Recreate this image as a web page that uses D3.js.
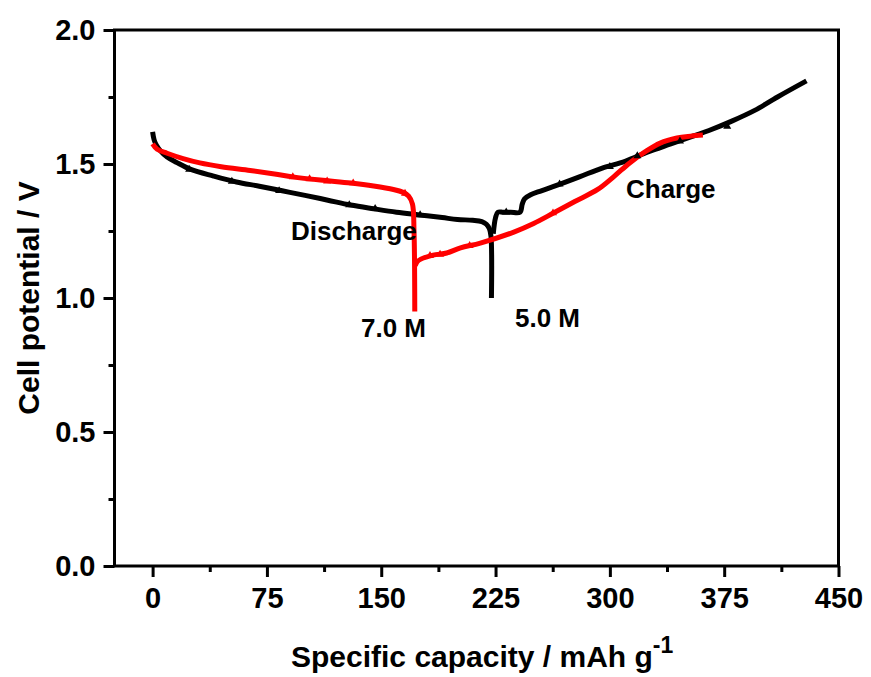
<html>
<head>
  <script src="https://d3js.org/d3.v7.min.js"></script>
  <style>
    body { margin: 0; background: #fff; }
    text { font-family: "Liberation Sans", Arial, sans-serif; }
    .tick text { font-weight: bold; font-size: 29px; fill: #000; }
    .tick line { stroke: #000; stroke-width: 3px; }
    .title { font-weight: bold; font-size: 30px; }
    .note { font-weight: bold; font-size: 26px; }
  </style>
</head>
<body>
  <svg id="chart" width="871" height="677"></svg>
  <script>
    // 5.0 M electrolyte (black) - discharge then charge
    const blackDischargeX = [0, 1, 2.5, 5, 9.5, 16, 25, 40, 55, 70, 85, 100, 115, 130, 145, 160, 175, 190, 200, 210, 216, 219, 221, 222, 222.3];
    const blackDischargeY = [1.62, 1.59, 1.57, 1.55, 1.526, 1.505, 1.48, 1.455, 1.433, 1.417, 1.40, 1.383, 1.365, 1.347, 1.333, 1.32, 1.31, 1.30, 1.293, 1.29, 1.285, 1.275, 1.258, 1.23, 1.0];
    const blackChargeX = [223.5, 225, 226.5, 230, 235, 241, 242.5, 244, 248, 255, 265, 280, 295, 310, 325, 340, 355, 365, 380, 395, 410, 429];
    const blackChargeY = [1.24, 1.30, 1.32, 1.32, 1.32, 1.32, 1.35, 1.37, 1.385, 1.40, 1.42, 1.452, 1.485, 1.51, 1.545, 1.575, 1.605, 1.625, 1.66, 1.70, 1.75, 1.81];

    // 7.0 M electrolyte (red)
    const redDischargeX = [0, 3, 9.5, 20, 31, 45, 64, 80, 92, 110, 130, 145, 158, 164, 168, 170.5, 171.5, 172];
    const redDischargeY = [1.575, 1.555, 1.54, 1.52, 1.504, 1.49, 1.476, 1.463, 1.452, 1.44, 1.429, 1.418, 1.405, 1.395, 1.38, 1.35, 1.25, 0.95];
    const redChargeX = [172.3, 173.5, 176, 184, 193, 202, 215, 237, 250, 263, 277, 292, 303, 313, 323, 333, 344, 353, 361];
    const redChargeY = [1.12, 1.135, 1.145, 1.16, 1.168, 1.187, 1.205, 1.246, 1.278, 1.317, 1.36, 1.405, 1.455, 1.504, 1.545, 1.578, 1.597, 1.604, 1.608];

    // small symbols sitting on the curves
    const blackMarkX = [24, 52, 83, 129, 146, 175.5, 232, 267, 300, 318, 346, 377];
    const blackMarkY = [1.48, 1.435, 1.40, 1.347, 1.333, 1.31, 1.32, 1.425, 1.49, 1.53, 1.585, 1.64];
    const redMarkX = [92, 103, 114.5, 131.6, 165.6, 182, 188.6, 208, 262.7];
    const redMarkY = [1.452, 1.444, 1.436, 1.429, 1.39, 1.158, 1.163, 1.195, 1.317];

    const xTicks = [0, 75, 150, 225, 300, 375, 450];
    const xMinor = [37.5, 112.5, 187.5, 262.5, 337.5, 412.5];
    const yTicks = [0.0, 0.5, 1.0, 1.5, 2.0];
    const yMinor = [0.25, 0.75, 1.25, 1.75];

    const zip = (xs, ys) => xs.map((d, i) => [d, ys[i]]);

    const svg = d3.select("#chart");
    const margin = { top: 30, right: 32.5, bottom: 111, left: 114.5 };
    const width = 871 - margin.left - margin.right;
    const height = 677 - margin.top - margin.bottom;

    const plot = svg.append("g")
      .attr("transform", "translate(" + margin.left + "," + margin.top + ")");

    const x = d3.scaleLinear().domain([-25, 450]).range([0, width]);
    const y = d3.scaleLinear().domain([0, 2]).range([height, 0]);

    // axes
    const xAxis = plot.append("g").attr("transform", "translate(0," + height + ")")
      .call(d3.axisBottom(x).tickValues(xTicks).tickSize(11).tickPadding(8).tickFormat(d3.format("d")));
    plot.append("g").attr("transform", "translate(0," + height + ")")
      .call(d3.axisBottom(x).tickValues(xMinor).tickSize(6).tickFormat(""));
    const yAxis = plot.append("g")
      .call(d3.axisLeft(y).tickValues(yTicks).tickSize(11).tickPadding(8).tickFormat(d3.format(".1f")));
    plot.append("g")
      .call(d3.axisLeft(y).tickValues(yMinor).tickSize(6).tickFormat(""));
    plot.selectAll(".domain").remove();
    xAxis.selectAll("text").attr("dy", "0.78em");
    yAxis.selectAll("text").attr("dy", "0.34em");

    plot.append("rect")
      .attr("width", width).attr("height", height)
      .attr("fill", "none").attr("stroke", "#000").attr("stroke-width", 3);

    const line = d3.line()
      .x(d => x(d[0]))
      .y(d => y(d[1]))
      .curve(d3.curveCatmullRom.alpha(0.5));

    const series = [
      { pts: zip(blackDischargeX, blackDischargeY), color: "#000" },
      { pts: zip(blackChargeX, blackChargeY), color: "#000" },
      { pts: zip(redDischargeX, redDischargeY), color: "#ff0000" },
      { pts: zip(redChargeX, redChargeY), color: "#ff0000" }
    ];

    plot.selectAll("path.curve").data(series)
      .join("path")
      .attr("class", "curve")
      .attr("fill", "none")
      .attr("stroke", d => d.color)
      .attr("stroke-width", 5)
      .attr("stroke-linejoin", "round")
      .attr("d", d => line(d.pts));

    const sym = d3.symbol().type(d3.symbolTriangle).size(28);
    const marks = zip(blackMarkX, blackMarkY).map(p => ({ p: p, c: "#000" }))
      .concat(zip(redMarkX, redMarkY).map(p => ({ p: p, c: "#ff0000" })));
    plot.selectAll("path.mark").data(marks)
      .join("path")
      .attr("class", "mark")
      .attr("fill", d => d.c)
      .attr("transform", d => "translate(" + x(d.p[0]) + "," + y(d.p[1]) + ")")
      .attr("d", sym);

    // annotations
    svg.append("text").attr("class", "note").attr("x", 291).attr("y", 240).text("Discharge");
    svg.append("text").attr("class", "note").attr("x", 626).attr("y", 198).text("Charge");
    svg.append("text").attr("class", "note").attr("x", 361).attr("y", 337).text("7.0 M");
    svg.append("text").attr("class", "note").attr("x", 515).attr("y", 327).text("5.0 M");

    // axis titles
    const xt = svg.append("text").attr("class", "title").attr("x", 291).attr("y", 667);
    xt.append("tspan").text("Specific capacity / mAh g");
    xt.append("tspan").attr("dy", -14).attr("font-size", 23).text("-1");

    svg.append("text").attr("class", "title")
      .attr("transform", "translate(39,298) rotate(-90)")
      .attr("text-anchor", "middle")
      .text("Cell potential / V");
  </script>
</body>
</html>
